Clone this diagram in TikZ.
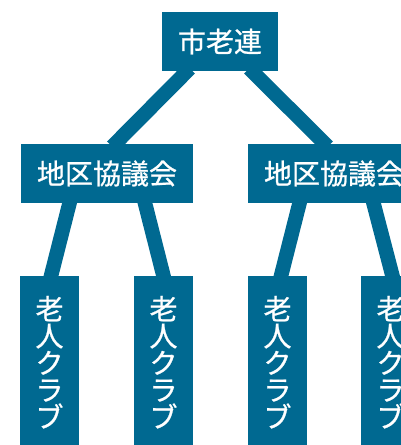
\documentclass[tikz,border=0pt]{standalone}
\usepackage{fontspec}
\newfontfamily\jp[FakeBold=0.8]{Noto Sans CJK JP}
\usetikzlibrary{backgrounds}
\definecolor{org}{RGB}{0,105,145}
\begin{document}
\begin{tikzpicture}[x=1pt,y=-1pt,
  box/.style={fill=org, text=white, inner sep=0pt, font=\jp\fontsize{28}{27}\selectfont},
  club/.style={box, anchor=north, minimum width=59, minimum height=172, align=center},
  link/.style={draw=org, line width=14.5pt, shorten <=-4pt, shorten >=-4pt}]
\useasboundingbox (0,0) rectangle (401,445);
\node[box, minimum width=116, minimum height=59] (top) at (220,41.5) {市老連};
\node[box, minimum width=172, minimum height=59] (midL) at (107,173.5) {地区協議会};
\node[box, minimum width=172, minimum height=59] (midR) at (334,173.5) {地区協議会};
\node[club] (b1) at (49.5,276) {老\\人\\ク\\ラ\\ブ};
\node[club] (b2) at (163.5,276) {老\\人\\ク\\ラ\\ブ};
\node[club] (b3) at (277.5,276) {老\\人\\ク\\ラ\\ブ};
\node[club] (b4) at (390.5,276) {老\\人\\ク\\ラ\\ブ};
\begin{scope}[on background layer]
\draw[link] ([xshift=-33]top.south) -- ([xshift=8]midL.north);
\draw[link] ([xshift=32]top.south) -- ([xshift=-9]midR.north);
\draw[link] ([xshift=-37.5]midL.south) -- ([xshift=1.5]b1.north);
\draw[link] ([xshift=38]midL.south) -- (b2.north);
\draw[link] ([xshift=-34.5]midR.south) -- ([xshift=3.5]b3.north);
\draw[link] ([xshift=39.5]midR.south) -- ([xshift=2]b4.north);
\end{scope}
\end{tikzpicture}
\end{document}
